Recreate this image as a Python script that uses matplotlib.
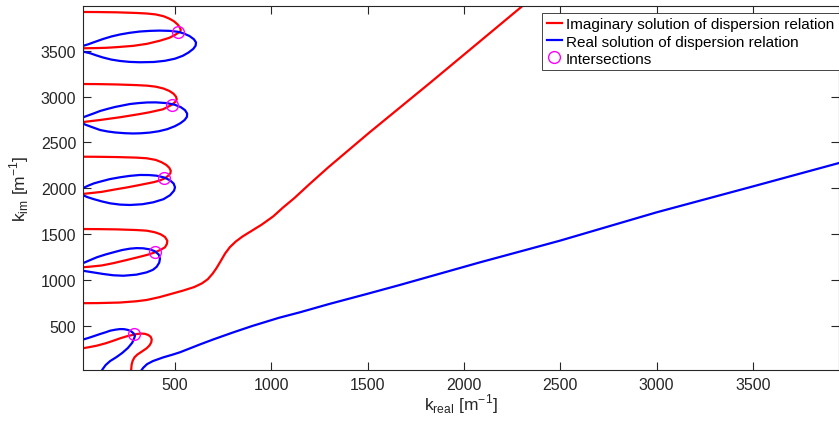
import matplotlib
matplotlib.use("Agg")
import matplotlib.pyplot as plt

plt.rcParams['font.family'] = ['Liberation Sans', 'DejaVu Sans']

# Imaginary solution (red) - closed loops near the k_im axis
red_loop1_x = [20, 100, 200, 300, 355, 400, 440, 470, 495, 514, 526, 530, 527, 518, 500, 470,
               422, 355, 284, 200, 146, 100, 20]
red_loop1_y = [3922, 3921, 3918, 3911, 3905, 3895, 3876, 3850, 3820, 3785, 3750, 3725, 3708, 3697,
               3672, 3640, 3609, 3575, 3553, 3539, 3532, 3529, 3526]
red_loop2_x = [20, 100, 200, 300, 355, 400, 440, 470, 492, 505, 509, 503, 492, 478, 460, 438,
               370, 318, 215, 111, 60, 20]
red_loop2_y = [3137, 3136, 3132, 3125, 3119, 3108, 3088, 3062, 3032, 3000, 2970, 2945, 2925, 2905,
               2885, 2862, 2830, 2810, 2775, 2745, 2732, 2722]
red_loop3_x = [20, 100, 200, 300, 353, 400, 430, 455, 470, 478, 476, 466, 448, 420, 390, 353,
               300, 250, 180, 120, 60, 20]
red_loop3_y = [2345, 2344, 2341, 2335, 2328, 2310, 2285, 2255, 2225, 2192, 2165, 2140, 2110, 2085,
               2068, 2052, 2030, 2010, 1985, 1962, 1948, 1939]
red_loop4_x = [20, 100, 200, 300, 353, 395, 425, 448, 460, 458, 448, 425, 396, 360, 318, 250,
               180, 120, 60, 20]
red_loop4_y = [1557, 1556, 1553, 1546, 1539, 1522, 1500, 1470, 1430, 1395, 1358, 1330, 1303, 1278,
               1255, 1220, 1185, 1160, 1147, 1140]
red_low_x = [20, 60, 94, 140, 180, 215, 249, 280, 301, 325, 344, 362, 374, 379, 377, 368, 353,
             330, 305, 290, 280, 275, 272]
red_low_y = [257, 272, 286, 312, 340, 366, 388, 403, 413, 418, 415, 402, 382, 355, 323, 290, 258,
             225, 190, 160, 120, 80, 15]
red_main_x = [20, 100, 214, 300, 353, 420, 480, 540, 600, 640, 670, 695, 715, 735, 760, 785, 815,
              850, 900, 950, 1010, 1060, 1120, 1200, 1296, 1507, 1824, 2076, 2316]
red_main_y = [749, 750, 756, 770, 784, 815, 850, 885, 925, 965, 1010, 1070, 1130, 1200, 1290, 1360,
              1420, 1475, 1540, 1605, 1695, 1790, 1895, 2050, 2230, 2605, 3150, 3590, 4009]

# Real solution (blue)
blue_loop1_x = [20, 50, 80, 126, 170, 215, 265, 318, 370, 420, 474, 515, 545, 575, 598, 609, 607,
                595, 570, 541, 500, 448, 390, 318, 265, 215, 170, 126, 90, 60, 20]
blue_loop1_y = [3551, 3570, 3593, 3627, 3655, 3677, 3695, 3709, 3716, 3719, 3716, 3706, 3688, 3660,
                3625, 3590, 3555, 3520, 3480, 3445, 3413, 3390, 3377, 3374, 3378, 3388, 3403, 3426,
                3450, 3472, 3491]
blue_loop2_x = [20, 50, 80, 111, 150, 189, 230, 266, 310, 355, 400, 458, 500, 530, 552, 563, 562,
                550, 528, 500, 460, 415, 370, 320, 282, 240, 189, 150, 111, 70, 40, 20]
blue_loop2_y = [2772, 2795, 2818, 2843, 2866, 2887, 2904, 2919, 2929, 2936, 2937, 2929, 2910, 2885,
                2852, 2815, 2780, 2745, 2710, 2678, 2645, 2622, 2608, 2600, 2598, 2601, 2609, 2620,
                2636, 2667, 2690, 2707]
blue_loop3_x = [20, 50, 80, 111, 160, 215, 265, 318, 365, 405, 445, 474, 493, 500, 495, 474, 440,
                387, 330, 266, 215, 163, 120, 76, 45, 20]
blue_loop3_y = [2001, 2030, 2055, 2073, 2100, 2121, 2136, 2146, 2145, 2138, 2118, 2088, 2052, 2012,
                1975, 1925, 1882, 1848, 1827, 1819, 1823, 1837, 1858, 1884, 1905, 1928]
blue_loop4_x = [20, 50, 94, 140, 180, 225, 266, 300, 335, 370, 396, 415, 422, 418, 405, 385, 353,
                300, 232, 180, 128, 80, 20]
blue_loop4_y = [1183, 1210, 1249, 1280, 1303, 1328, 1343, 1349, 1347, 1335, 1314, 1280, 1235, 1190,
                1146, 1112, 1085, 1060, 1048, 1053, 1067, 1083, 1103]
blue_low_x = [20, 50, 76, 111, 140, 163, 190, 215, 235, 255, 272, 285, 292, 290, 278, 255, 225,
              195, 163, 140, 126, 120]
blue_low_y = [351, 370, 388, 413, 432, 449, 460, 467, 466, 458, 443, 420, 395, 377, 318, 260, 205,
              160, 118, 75, 35, 15]
blue_main_x = [323, 335, 355, 385, 438, 490, 527, 630, 700, 801, 900, 1040, 1149, 1300, 1495,
               1668, 2083, 2342, 2498, 3000, 3501, 3946]
blue_main_y = [10, 45, 85, 118, 158, 190, 215, 300, 355, 430, 500, 590, 650, 740, 849, 948,
               1194, 1341, 1430, 1739, 2022, 2276]

# Intersections
inter_x = [517, 484, 444, 396, 289]
inter_y = [3701, 2908, 2113, 1303, 413]

red_curves = [(red_loop1_x, red_loop1_y), (red_loop2_x, red_loop2_y), (red_loop3_x, red_loop3_y),
              (red_loop4_x, red_loop4_y), (red_low_x, red_low_y), (red_main_x, red_main_y)]
blue_curves = [(blue_loop1_x, blue_loop1_y), (blue_loop2_x, blue_loop2_y), (blue_loop3_x, blue_loop3_y),
               (blue_loop4_x, blue_loop4_y), (blue_low_x, blue_low_y), (blue_main_x, blue_main_y)]

dark = '#262626'
fig = plt.figure(figsize=(8.39, 4.27), dpi=100)
ax = fig.add_axes([83.3 / 839, (427 - 371) / 427, (838.7 - 83.3) / 839, (371 - 7) / 427])

for i, (x, y) in enumerate(red_curves):
    ax.plot(x, y, color='red', lw=1.6, solid_joinstyle='round',
            label='Imaginary solution of dispersion relation' if i == 0 else None)
for i, (x, y) in enumerate(blue_curves):
    ax.plot(x, y, color='blue', lw=1.6, solid_joinstyle='round',
            label='Real solution of dispersion relation' if i == 0 else None)
ax.plot(inter_x, inter_y, 'o', ms=8.5, mfc='none', mec='magenta', mew=1.0, label='Intersections')

ax.set_xlim(24, 3945)
ax.set_ylim(21, 3987)
ax.set_xticks([500, 1000, 1500, 2000, 2500, 3000, 3500])
ax.set_yticks([500, 1000, 1500, 2000, 2500, 3000, 3500])
ax.tick_params(direction='in', top=True, right=True, length=5.5, width=0.8,
               colors=dark, labelsize=11.5, pad=5)
for s in ax.spines.values():
    s.set_color(dark)
    s.set_linewidth(0.8)

ax.set_xlabel(r'k$_{\mathregular{real}}$ [m$^{\mathregular{-1}}$]', fontsize=12.5, color=dark)
ax.set_ylabel(r'k$_{\mathregular{im}}$ [m$^{\mathregular{-1}}$]', fontsize=12.5, color=dark)
ax.xaxis.set_label_coords(0.5, -0.058)
ax.yaxis.set_label_coords(-0.069, 0.5)

leg = ax.legend(loc='upper right', bbox_to_anchor=(1.0, 0.981), borderaxespad=0,
                fontsize=11, handlelength=1.0, handletextpad=0.25, labelspacing=0.2,
                borderpad=0.3, fancybox=False, framealpha=1, edgecolor=dark)
leg.get_frame().set_linewidth(0.6)

fig.savefig('out.png', dpi=100)
